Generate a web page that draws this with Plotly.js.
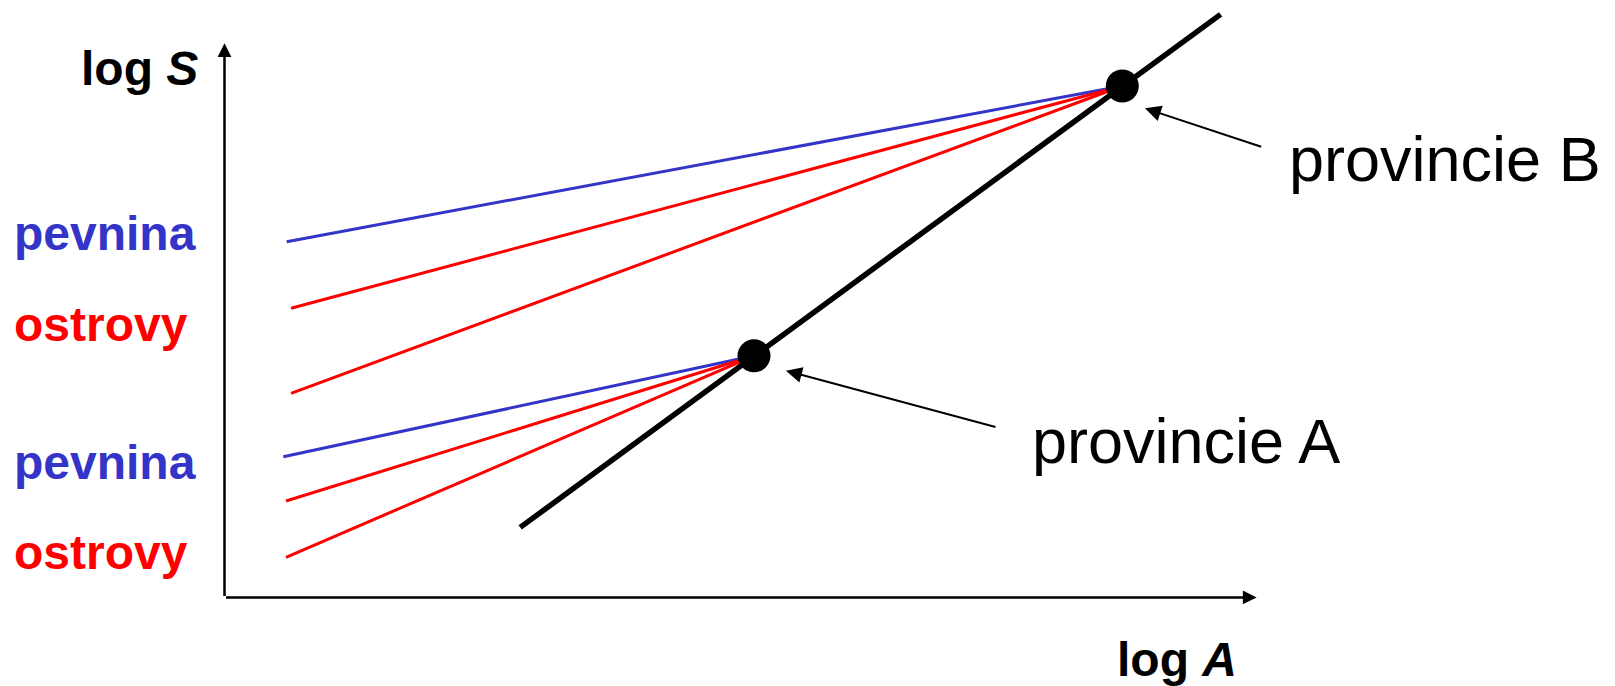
<!DOCTYPE html>
<html>
<head>
<meta charset="utf-8">
<script src="https://cdn.plot.ly/plotly-3.0.1.min.js"></script>
<style>
  html, body { margin: 0; padding: 0; background: #fff; }
  #chart { width: 1615px; height: 686px; }
</style>
</head>
<body>
<div id="chart"></div>
<script>
// Species–area schematic: log S against log A, origin at the corner of the axes.

// Interprovincial line through the two provinces
const lineLogA = [2.957, 9.961];
const lineLogS = [0.700, 5.830];

// Provinces (on the interprovincial line)
const provinceNames = ['provincie A', 'provincie B'];
const provinceLogA = [5.295, 8.978];
const provinceLogS = [2.416, 5.114];

// Left ends of the within-province curves: [pevnina, ostrovy 1, ostrovy 2]
const fanBLogA = [0.622, 0.665, 0.665];
const fanBLogS = [3.557, 2.891, 2.041];
const fanALogA = [0.588, 0.615, 0.615];
const fanALogS = [1.407, 0.964, 0.401];
const fanKinds = ['pevnina', 'ostrovy', 'ostrovy'];

// Axis extents
const axisEndLogA = 10.321;
const axisEndLogS = 5.541;

const BLUE = '#3434c8';
const RED = '#ff0000';
const kindColor = { pevnina: BLUE, ostrovy: RED };

const traces = [];

traces.push({
  x: lineLogA, y: lineLogS, mode: 'lines', type: 'scatter',
  line: { color: '#000', width: 5.5 }, hoverinfo: 'skip', cliponaxis: false
});

function fan(xs, ys, px, py) {
  xs.forEach((x0, i) => {
    traces.push({
      x: [x0, px], y: [ys[i], py], mode: 'lines', type: 'scatter',
      line: { color: kindColor[fanKinds[i]], width: 3 },
      hoverinfo: 'skip', cliponaxis: false
    });
  });
}
fan(fanBLogA, fanBLogS, provinceLogA[1], provinceLogS[1]);
fan(fanALogA, fanALogS, provinceLogA[0], provinceLogS[0]);

traces.push({
  x: provinceLogA, y: provinceLogS, mode: 'markers', type: 'scatter',
  marker: { color: '#000', size: 33 }, hoverinfo: 'skip', cliponaxis: false
});

const boldFont = { family: 'Liberation Sans, Arial, sans-serif', size: 48 };
const plainFont = { family: 'Liberation Sans, Arial, sans-serif', size: 63, color: '#000' };

const annotations = [
  // axes with arrowheads
  { x: 0, y: axisEndLogS, ax: 0, ay: 0, xref: 'x', yref: 'y', axref: 'x', ayref: 'y',
    showarrow: true, arrowhead: 2, arrowsize: 1.1, arrowwidth: 2.5, arrowcolor: '#000', text: '' },
  { x: axisEndLogA, y: 0, ax: 0, ay: 0, xref: 'x', yref: 'y', axref: 'x', ayref: 'y',
    showarrow: true, arrowhead: 2, arrowsize: 1.1, arrowwidth: 2.5, arrowcolor: '#000', text: '' },
  // axis titles
  { x: -0.245, y: 5.286, xref: 'x', yref: 'y', xanchor: 'right', yanchor: 'middle',
    showarrow: false, text: '<b>log <i>S</i></b>', font: Object.assign({ color: '#000' }, boldFont) },
  { x: 10.142, y: -0.624, xref: 'x', yref: 'y', xanchor: 'right', yanchor: 'middle',
    showarrow: false, text: '<b>log <i>A</i></b>', font: Object.assign({ color: '#000' }, boldFont) },
  // curve group labels
  { x: -2.125, y: 3.639, xref: 'x', yref: 'y', xanchor: 'left', yanchor: 'middle',
    showarrow: false, text: '<b>pevnina</b>', font: Object.assign({ color: BLUE }, boldFont) },
  { x: -2.125, y: 2.732, xref: 'x', yref: 'y', xanchor: 'left', yanchor: 'middle',
    showarrow: false, text: '<b>ostrovy</b>', font: Object.assign({ color: RED }, boldFont) },
  { x: -2.125, y: 1.352, xref: 'x', yref: 'y', xanchor: 'left', yanchor: 'middle',
    showarrow: false, text: '<b>pevnina</b>', font: Object.assign({ color: BLUE }, boldFont) },
  { x: -2.125, y: 0.452, xref: 'x', yref: 'y', xanchor: 'left', yanchor: 'middle',
    showarrow: false, text: '<b>ostrovy</b>', font: Object.assign({ color: RED }, boldFont) },
  // province callouts
  { x: 5.615, y: 2.267, ax: 7.725, ay: 1.700, xref: 'x', yref: 'y', axref: 'x', ayref: 'y',
    showarrow: true, arrowhead: 2, arrowsize: 1.6, arrowwidth: 2, arrowcolor: '#000', text: '' },
  { x: 9.205, y: 4.891, ax: 10.382, ay: 4.501, xref: 'x', yref: 'y', axref: 'x', ayref: 'y',
    showarrow: true, arrowhead: 2, arrowsize: 1.6, arrowwidth: 2, arrowcolor: '#000', text: '' },
  { x: 8.055, y: 1.562, xref: 'x', yref: 'y', xanchor: 'left', yanchor: 'middle',
    showarrow: false, text: provinceNames[0], font: plainFont },
  { x: 10.627, y: 4.382, xref: 'x', yref: 'y', xanchor: 'left', yanchor: 'middle',
    showarrow: false, text: provinceNames[1], font: plainFont }
];

const hiddenAxis = { visible: false, showgrid: false, zeroline: false, fixedrange: true };

const layout = {
  width: 1615, height: 686,
  margin: { l: 0, r: 0, t: 0, b: 0, pad: 0 },
  paper_bgcolor: '#fff', plot_bgcolor: '#fff',
  showlegend: false, hovermode: false,
  xaxis: Object.assign({ range: [-2.245, 13.905] }, hiddenAxis),
  yaxis: Object.assign({ range: [-0.886, 5.974] }, hiddenAxis),
  annotations: annotations
};

Plotly.newPlot('chart', traces, layout, { displayModeBar: false, staticPlot: true });
</script>
</body>
</html>
